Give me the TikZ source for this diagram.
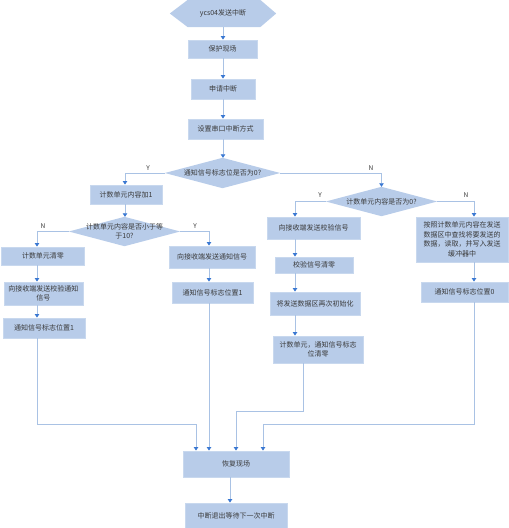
\documentclass[tikz,border=0pt]{standalone}
\usepackage{fontspec}
\setmainfont{Noto Sans CJK SC}
\usetikzlibrary{arrows.meta}
\definecolor{boxfill}{HTML}{B8CCE9}
\definecolor{boxline}{HTML}{C8D8EE}
\definecolor{linecol}{HTML}{A9C2E4}
\definecolor{tipcol}{HTML}{3A78D2}
\definecolor{txtcol}{HTML}{3A3A3A}
\pgfdeclarelayer{background}
\pgfsetlayers{background,main}
\newcommand\mydiafill[1]{\begin{pgfonlayer}{background}\fill[boxfill] (#1.west) -- (#1.north) -- (#1.east) -- (#1.south) -- cycle;\end{pgfonlayer}}
\tikzset{
  box/.style={rectangle, fill=boxfill, draw=boxline, line width=0.8pt, inner sep=1pt,
    font=\fontsize{7}{9.5}\selectfont, text=txtcol, align=center},
  dec/.style={rectangle, draw=none, inner sep=0pt,
    font=\fontsize{7}{9.5}\selectfont, text=txtcol, align=center},
  conn/.style={draw=linecol, line width=0.7pt, -{Triangle[width=4.5pt,length=3.5pt,color=tipcol]}},
  lbl/.style={font=\fontsize{6.5}{7}\selectfont, text=txtcol, inner sep=0pt}
}
\begin{document}
\begin{tikzpicture}[x=1pt,y=-1pt]
\useasboundingbox (0,0) rectangle (509,528);
% start hexagon
\node[inner sep=0pt, minimum width=106pt, minimum height=27pt, font=\fontsize{7}{9.5}\selectfont, text=txtcol] (start) at (223,13.5) {ycs04发送中断};
\begin{pgfonlayer}{background}
\fill[boxfill] (start.west) -- ([xshift=18pt]start.north west) -- ([xshift=-16pt]start.north east) -- (start.east) -- ([xshift=-16pt]start.south east) -- ([xshift=18pt]start.south west) -- cycle;
\end{pgfonlayer}
\node[box, minimum width=69pt, minimum height=18pt] (b1) at (222.5,49) {保护现场};
\node[box, minimum width=64pt, minimum height=20pt] (b2) at (223,89) {申请中断};
\node[box, minimum width=75pt, minimum height=20pt] (b3) at (225.5,129) {设置串口中断方式};
\node[dec, minimum width=115pt, minimum height=30pt] (d1) at (222.5,173) {通知信号标志位是否为0?};
\mydiafill{d1}
\node[box, minimum width=72pt, minimum height=19pt] (b4) at (126,194.5) {计数单元内容加1};
\node[dec, minimum width=111pt, minimum height=29pt] (d2) at (124.5,231.5) {计数单元内容是否小于等\\于10?};
\mydiafill{d2}
\node[box, minimum width=83pt, minimum height=18pt] (b5) at (43,256) {计数单元清零};
\node[box, minimum width=79pt, minimum height=23pt] (b6) at (43.5,293.5) {向接收端发送校验通知\\信号};
\node[box, minimum width=82pt, minimum height=20pt] (b7) at (44,328) {通知信号标志位置1};
\node[box, minimum width=86pt, minimum height=22pt] (b8) at (212,257) {向接收端发送通知信号};
\node[box, minimum width=81pt, minimum height=21pt] (b9) at (212.5,292.5) {通知信号标志位置1};
\node[dec, minimum width=111pt, minimum height=29pt] (d3) at (381.5,201.5) {计数单元内容是否为0?};
\mydiafill{d3}
\node[box, minimum width=93pt, minimum height=22pt] (b10) at (313.5,228) {向接收端发送校验信号};
\node[box, minimum width=78pt, minimum height=16pt] (b11) at (314,265) {校验信号清零};
\node[box, minimum width=90pt, minimum height=23pt] (b12) at (315,303.5) {将发送数据区再次初始化};
\node[box, minimum width=90pt, minimum height=27pt] (b13) at (318,349.5) {计数单元，通知信号标志\\位清零};
\node[box, minimum width=92pt, minimum height=45pt] (b14) at (462,239.5) {按照计数单元内容在发送\\数据区中查找将要发送的\\数据，读取，并写入发送\\缓冲器中};
\node[box, minimum width=87pt, minimum height=20pt] (b15) at (464.5,292) {通知信号标志位置0};
\node[box, minimum width=106pt, minimum height=26pt] (b16) at (236,464) {恢复现场};
\node[box, minimum width=102pt, minimum height=25pt] (b17) at (236,515.5) {中断退出等待下一次中断};
% column coordinates
\coordinate (cA) at (37,0);
\coordinate (cG) at (125,0);
\coordinate (cB) at (209,0);
\coordinate (cC) at (295,0);
\coordinate (cD) at (474,0);
\coordinate (cM) at (223,0);
\coordinate (e1) at (196,0);
\coordinate (e3) at (236,0);
\coordinate (e4) at (263,0);
\coordinate (cE) at (303,0);
\coordinate (cF) at (230,0);
\coordinate (r1) at (0,424);
\coordinate (r2) at (0,411);
% main column
\draw[conn] (start.south -| cM) -- (b1.north -| cM);
\draw[conn] (b1.south -| cM) -- (b2.north -| cM);
\draw[conn] (b2.south -| cM) -- (b3.north -| cM);
\draw[conn] (b3.south -| cM) -- (d1.north -| cM);
% decision 1
\draw[conn] (d1.west) -| (b4.north -| cG);
\node[lbl] (y1) at (148,168) {Y};
\draw[conn] (d1.east) -| (d3.north);
\node[lbl] (n1) at (371,168) {N};
\draw[conn] (b4.south -| cG) -- (d2.north -| cG);
% decision 2
\draw[conn] (d2.west) -| (b5.north -| cA);
\node[lbl] (n2) at (43,226.5) {N};
\draw[conn] (d2.east) -| (b8.north -| cB);
\node[lbl] (y2) at (195,226.5) {Y};
\draw[conn] (b5.south -| cA) -- (b6.north -| cA);
\draw[conn] (b6.south -| cA) -- (b7.north -| cA);
\draw[conn] (b7.south -| cA) -- (r1 -| cA) -- (r1 -| e1) -- (b16.north -| e1);
\draw[conn] (b8.south -| cB) -- (b9.north -| cB);
\draw[conn] (b9.south -| cB) -- (b16.north -| cB);
% decision 3
\draw[conn] (d3.west) -| (b10.north -| cC);
\node[lbl] (y3) at (320,195.5) {Y};
\draw[conn] (d3.east) -| (b14.north -| cD);
\node[lbl] (n3) at (466,195.5) {N};
\draw[conn] (b10.south -| cC) -- (b11.north -| cC);
\draw[conn] (b11.south -| cC) -- (b12.north -| cC);
\draw[conn] (b12.south -| cC) -- (b13.north -| cC);
\draw[conn] (b13.south -| cE) -- (r2 -| cE) -- (r2 -| e3) -- (b16.north -| e3);
\draw[conn] (b14.south -| cD) -- (b15.north -| cD);
\draw[conn] (b15.south -| cD) -- (r1 -| cD) -- (r1 -| e4) -- (b16.north -| e4);
\draw[conn] (b16.south -| cF) -- (b17.north -| cF);
\end{tikzpicture}
\end{document}
